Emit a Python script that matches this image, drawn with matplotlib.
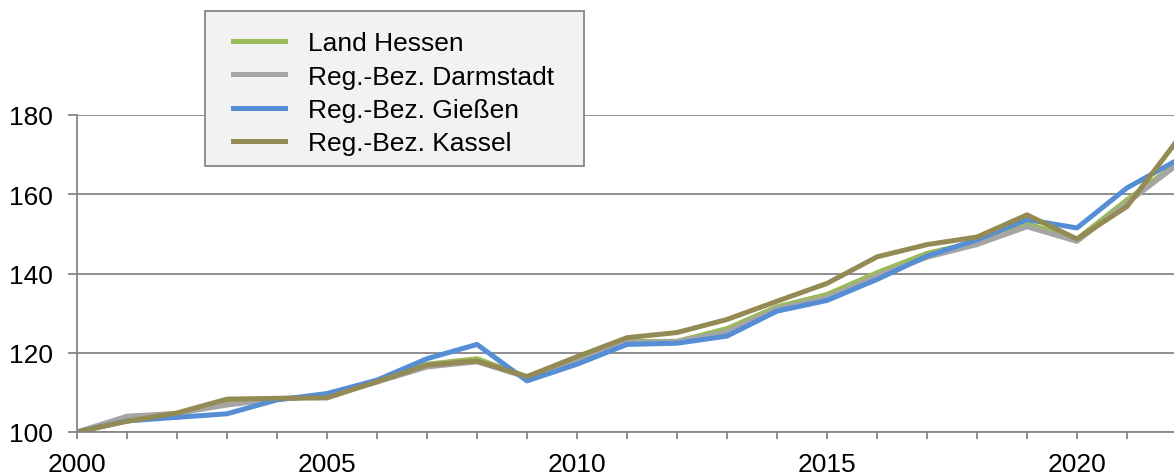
import matplotlib
matplotlib.use('Agg')
import matplotlib.pyplot as plt
from matplotlib.patches import Rectangle
from matplotlib.ticker import FixedLocator, FuncFormatter

plt.rcParams['font.family'] = ['Liberation Sans', 'DejaVu Sans']
plt.rcParams['font.size'] = 19

# Index (2000 = 100) je Gebiet
years = list(range(2000, 2023))
hessen = [100, 103.3, 104.6, 107.2, 108.4, 109.0, 112.8, 117.1, 118.5, 113.9, 118.5,
          122.8, 122.9, 126.1, 131.6, 134.7, 140.2, 145.1, 148.0, 152.6, 148.7, 158.6, 167.8]
darmstadt = [100, 104.0, 104.7, 106.8, 108.3, 109.0, 112.6, 116.4, 117.7, 113.8, 118.2,
             122.6, 122.8, 125.3, 131.1, 133.9, 139.4, 144.1, 147.3, 151.8, 148.1, 157.8, 167.4]
giessen = [100, 102.8, 103.7, 104.6, 108.1, 109.7, 113.1, 118.5, 122.1, 112.9, 117.1,
           122.1, 122.4, 124.2, 130.5, 133.2, 138.5, 144.4, 148.5, 153.6, 151.5, 161.6, 168.6]
kassel = [100, 102.7, 104.8, 108.3, 108.5, 108.6, 112.7, 116.9, 117.9, 114.0, 119.0,
          123.8, 125.1, 128.4, 133.0, 137.5, 144.2, 147.3, 149.2, 154.8, 148.7, 156.9, 173.5]

series = [
    ('Land Hessen', hessen, '#9bbb59'),
    ('Reg.-Bez. Darmstadt', darmstadt, '#a5a5a5'),
    ('Reg.-Bez. Gießen', giessen, '#558ed5'),
    ('Reg.-Bez. Kassel', kassel, '#948a54'),
]

W, H = 1174, 477
fig = plt.figure(figsize=(W / 100, H / 100), dpi=100)
# Achse ragt rechts etwas über den Bildrand hinaus (wie im Original abgeschnitten)
ax = fig.add_axes([77 / W, 1 - 433 / H, 1100 / W, (433 - 116) / H])

grid_col = '#868686'
for name, vals, col in series:
    ax.plot(years, vals, color=col, lw=3.6, label=name)

ax.set_xlim(2000, 2022)
ax.set_ylim(100, 180)
ax.set_yticks([100, 120, 140, 160, 180])
ax.xaxis.set_major_locator(FixedLocator(years))
ax.xaxis.set_major_formatter(FuncFormatter(lambda v, p: f'{int(v)}' if int(v) % 5 == 0 else ''))
ax.grid(axis='y', color=grid_col, lw=1.3)
ax.set_axisbelow(True)
for s in ['top', 'right']:
    ax.spines[s].set_visible(False)
for s in ['left', 'bottom']:
    ax.spines[s].set_color(grid_col)
    ax.spines[s].set_linewidth(1.3)
ax.tick_params(axis='both', direction='out', width=1.3, color=grid_col,
               labelsize=19, labelcolor='black')
ax.tick_params(axis='x', length=5.3, pad=9)
ax.tick_params(axis='y', length=6.2, pad=11)

# Legendenrahmen separat, damit Innenabstände wie im Original passen
frame = Rectangle((205 / W, 1 - 167 / H), 379 / W, 155 / H, transform=fig.transFigure,
                  facecolor='#f2f2f2', edgecolor=grid_col, lw=1.3, zorder=3)
fig.patches.append(frame)
leg = fig.legend(loc='upper left', bbox_to_anchor=(233 / W, 1 - 32 / H), borderaxespad=0,
                 frameon=False, handlelength=1.97, handletextpad=0.87, labelspacing=0.36,
                 borderpad=0, fontsize=19)
leg.set_zorder(4)

fig.savefig('out.png', dpi=100)
